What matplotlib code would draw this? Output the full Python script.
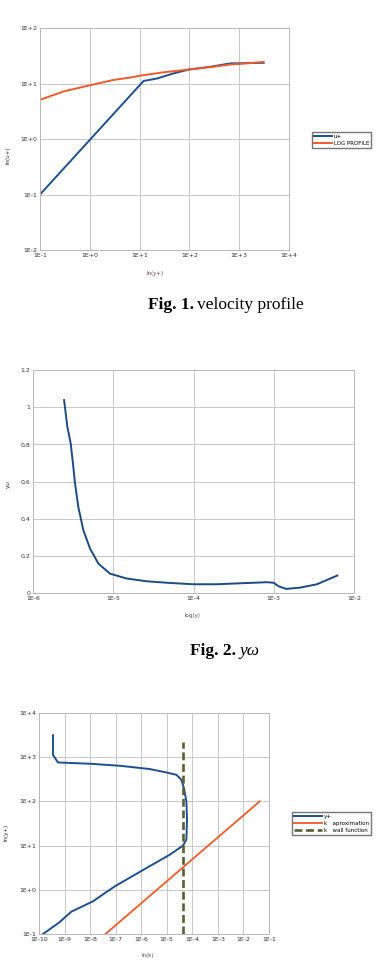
import numpy as np
import matplotlib
matplotlib.use('Agg')
import matplotlib.pyplot as plt
from matplotlib.ticker import FixedLocator, FuncFormatter, NullLocator

# Fig. 1 - velocity profile
yplus1 = [0.1, 12, 22.4, 48, 100, 263, 660, 3090]
uplus1 = [0.1, 11.1, 12.3, 15.2, 17.9, 20, 23, 23.6]
yplus_log = [0.1, 0.3, 1, 3, 6.5, 10, 30, 100, 300, 660, 1000, 3090]
uplus_log = [5.1, 7.2, 9.3, 11.6, 12.8, 13.8, 15.9, 17.9, 20.0, 22.0, 22.5, 24.5]

# Fig. 2 - y omega
y2 = [2.44e-6, 2.68e-6, 2.95e-6, 3.18e-6, 3.34e-6, 3.67e-6, 4.24e-6, 5.14e-6, 6.53e-6,
      9.12e-6, 1.47e-5, 2.62e-5, 5.1e-5, 1e-4, 1.95e-4, 4.2e-4, 8.2e-4, 1e-3,
      1.15e-3, 1.43e-3, 2.14e-3, 3.45e-3, 6.2e-3]
yw2 = [1.038, 0.894, 0.805, 0.679, 0.589, 0.463, 0.338, 0.239, 0.158,
       0.104, 0.078, 0.063, 0.054, 0.047, 0.047, 0.053, 0.058, 0.055,
       0.036, 0.022, 0.029, 0.047, 0.094]

# Fig. 3 - k
k_y = [1.43e-10, 6e-10, 1.84e-9, 1.3e-8, 9.1e-8, 1.17e-6, 1.29e-5, 4.3e-5, 5.85e-5, 6.2e-5,
       5.85e-5, 4.7e-5, 3.7e-5, 2.37e-5, 9.6e-6, 2.14e-6, 1.44e-7, 1.05e-8, 5.5e-10,
       3.53e-10, 3.53e-10]
yplus3 = [0.1, 0.18, 0.32, 0.55, 1.19, 2.8, 6.2, 10, 13.7, 39,
          100, 200, 310, 400, 452, 540, 640, 710, 760,
          1130, 3150]
k_apx = [4.0e-8, 0.043]
yplus_apx = [0.1, 100]
k_wall = [4.4e-5, 4.4e-5]
yplus_wall = [0.1, 2200]

BLUE = '#1f4f8f'
ORANGE = '#f05a2c'
OLIVE = '#5a6034'
GRID = '#c8c8c8'

def sci(v, pos):
    return '1E%+d' % int(round(np.log10(v)))

def style(ax):
    ax.grid(True, color=GRID, linewidth=0.7)
    ax.set_axisbelow(True)
    for s in ax.spines.values():
        s.set_color('#b8b8b8')
        s.set_linewidth(0.7)
    ax.tick_params(labelsize=4.5, length=0, pad=2, colors='#333333')

fig = plt.figure(figsize=(3.77, 9.6), dpi=100)
W, H = 377.0, 960.0

def axes_px(l, t, r, b):
    return fig.add_axes([l / W, 1 - b / H, (r - l) / W, (b - t) / H])

# panel 1
ax1 = axes_px(40, 28, 289, 250)
ax1.plot(yplus1, uplus1, color=BLUE, lw=1.4, label='u+')
ax1.plot(yplus_log, uplus_log, color=ORANGE, lw=1.4, label='LOG PROFILE')
ax1.set_xscale('log')
ax1.set_yscale('log')
ax1.set_xlim(0.1, 1e4)
ax1.set_ylim(0.01, 100)
ax1.xaxis.set_major_locator(FixedLocator([1e-1, 1, 10, 100, 1e3, 1e4]))
ax1.yaxis.set_major_locator(FixedLocator([1e-2, 1e-1, 1, 10, 100]))
for a in (ax1.xaxis, ax1.yaxis):
    a.set_minor_locator(NullLocator())
    a.set_major_formatter(FuncFormatter(sci))
style(ax1)
ax1.legend(loc='upper left', bbox_to_anchor=(312 / W, 1 - 132 / H), bbox_transform=fig.transFigure,
           fontsize=4, frameon=True, fancybox=False, edgecolor='#555555', handlelength=3.2,
           handletextpad=0.3, borderpad=0.4, labelspacing=0.3, borderaxespad=0)
fig.text(155 / W, 1 - 273 / H, 'ln(y+)', fontsize=4, ha='center', va='center', color='#7a3a50')
fig.text(8 / W, 1 - 155 / H, 'ln(u+)', fontsize=4, ha='center', va='center', rotation=90, color='#333333')

# panel 2
ax2 = axes_px(33, 370, 354, 593)
ax2.plot(y2, yw2, color='#1d4a80', lw=1.4)
ax2.set_xscale('log')
ax2.set_xlim(1e-6, 1e-2)
ax2.set_ylim(0, 1.2)
ax2.xaxis.set_major_locator(FixedLocator([1e-6, 1e-5, 1e-4, 1e-3, 1e-2]))
ax2.xaxis.set_minor_locator(NullLocator())
ax2.xaxis.set_major_formatter(FuncFormatter(sci))
ax2.set_yticks([0, 0.2, 0.4, 0.6, 0.8, 1.0, 1.2])
ax2.set_yticklabels(['0', '0,2', '0,4', '0,6', '0,8', '1', '1,2'])
style(ax2)
fig.text(192 / W, 1 - 615 / H, 'log(y)', fontsize=4, ha='center', va='center', color='#555555')
fig.text(8 / W, 1 - 484 / H, 'y\u03c9', fontsize=4, ha='center', va='center', rotation=90, color='#333333')

# panel 3
ax3 = axes_px(39, 713, 269, 934)
ax3.plot(k_y, yplus3, color=BLUE, lw=1.4, label='y+')
ax3.plot(k_apx, yplus_apx, color=ORANGE, lw=1.3, label='k   aproximation')
ax3.plot(k_wall, yplus_wall, color=OLIVE, lw=1.9, dashes=(3, 1.4), label='k   wall function')
ax3.set_xscale('log')
ax3.set_yscale('log')
ax3.set_xlim(1e-10, 1e-1)
ax3.set_ylim(0.1, 1e4)
ax3.xaxis.set_major_locator(FixedLocator([10.0 ** e for e in range(-10, 0)]))
ax3.yaxis.set_major_locator(FixedLocator([10.0 ** e for e in range(-1, 5)]))
for a in (ax3.xaxis, ax3.yaxis):
    a.set_minor_locator(NullLocator())
    a.set_major_formatter(FuncFormatter(sci))
style(ax3)
ax3.legend(loc='upper left', bbox_to_anchor=(292 / W, 1 - 812 / H), bbox_transform=fig.transFigure,
           fontsize=4, frameon=True, fancybox=False, edgecolor='#555555', handlelength=5,
           handletextpad=0.3, borderpad=0.4, labelspacing=0.3, borderaxespad=0)
fig.text(148 / W, 1 - 956 / H, 'ln(k)', fontsize=4, ha='center', va='center', color='#555555')
fig.text(6 / W, 1 - 832 / H, 'ln(y+)', fontsize=4, ha='center', va='center', rotation=90, color='#333333')

# captions, centred as a pair
serif = 'Liberation Serif'
def caption(bold, rest, xc, y, italic=False):
    t1 = fig.text(0, 1 - y / H, bold, fontsize=12.5, fontweight='bold', family=serif, ha='left', va='center')
    t2 = fig.text(0, 1 - y / H, rest, fontsize=12.5, family=serif, ha='left', va='center',
                  style='italic' if italic else 'normal')
    fig.canvas.draw()
    r = fig.canvas.get_renderer()
    w1 = t1.get_window_extent(r).width
    w2 = t2.get_window_extent(r).width
    gap = 3.5
    x0 = xc - (w1 + gap + w2) / 2
    t1.set_x(x0 / W)
    t2.set_x((x0 + w1 + gap) / W)

caption('Fig. 1.', 'velocity profile', 226, 305)
caption('Fig. 2.', 'y\u03c9', 225, 651, italic=True)

fig.savefig('out.png', dpi=100)
